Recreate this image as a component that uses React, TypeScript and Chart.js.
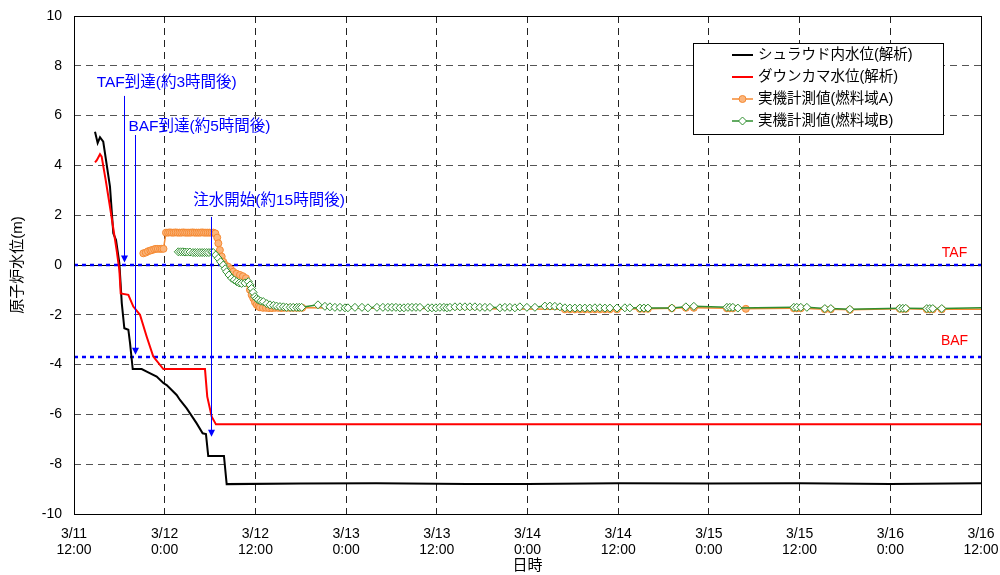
import React, { useEffect, useRef } from 'react';
import { Chart, registerables } from 'chart.js';
Chart.register(...registerables);

// ---- data (hours from 3/11 12:00) ----
const xTickLabels: string[][] = [
  ['3/11', '12:00'], ['3/12', '0:00'], ['3/12', '12:00'], ['3/13', '0:00'], ['3/13', '12:00'],
  ['3/14', '0:00'], ['3/14', '12:00'], ['3/15', '0:00'], ['3/15', '12:00'], ['3/16', '0:00'], ['3/16', '12:00'],
];
const seriesNames = ['シュラウド内水位(解析)', 'ダウンカマ水位(解析)', '実機計測値(燃料域A)', '実機計測値(燃料域B)'];

const shroudT = [2.78, 3.13, 3.44, 3.87, 4.76, 5.2, 5.56, 6.0, 6.32, 6.66, 7.19, 7.41, 7.77, 8.96, 9.62, 10.94, 11.82, 12.26, 13.58, 14.02, 14.91, 16.23, 17.02, 17.46, 17.76, 19.84, 20.2, 30, 40, 52, 60, 72, 84, 96, 108, 120];
const shroudV = [5.35, 4.9, 5.13, 4.95, 3.15, 1.27, 1.0, 0.08, -1.53, -2.54, -2.6, -3.13, -4.18, -4.18, -4.28, -4.48, -4.74, -4.82, -5.22, -5.42, -5.76, -6.36, -6.76, -6.79, -7.67, -7.67, -8.8, -8.78, -8.77, -8.8, -8.8, -8.77, -8.78, -8.77, -8.8, -8.77];

const downT = [2.78, 3.0, 3.44, 3.66, 4.2, 4.76, 5.64, 6.0, 6.18, 7.19, 7.85, 8.73, 9.62, 10.49, 11.82, 17.33, 17.63, 18.22, 18.78, 120];
const downV = [4.12, 4.2, 4.45, 4.35, 3.4, 2.34, 0.6, -0.2, -1.14, -1.2, -1.67, -2.0, -2.88, -3.68, -4.18, -4.18, -5.29, -6.09, -6.4, -6.4];

const measAT = [9.17, 9.5, 9.79, 10.1, 10.32, 10.6, 10.85, 11.1, 11.38, 11.6, 11.84,
  12.17, 12.45, 12.7, 12.95, 13.2, 13.45, 13.7, 13.95, 14.2, 14.45, 14.7, 14.95, 15.2, 15.45, 15.7, 15.95, 16.2, 16.45, 16.7, 16.95, 17.2, 17.45, 17.7, 17.95, 18.2, 18.45,
  18.7, 18.95, 19.1, 19.3, 19.54, 19.75, 20.0, 20.4, 20.75, 21.07, 21.5, 21.96, 22.35, 22.75, 23.06, 23.28, 23.5, 23.72, 23.95, 24.17, 24.4, 24.6,
  25.0, 25.4, 25.8, 26.2, 26.6, 27.0, 27.4, 27.8, 28.2, 28.6, 29.0, 29.4, 29.8, 30.2,
  64.95, 65.61, 66.27, 66.93, 67.59, 68.25, 68.92, 69.58, 70.24, 70.9, 71.83, 74.87, 75.4, 75.93, 79.1, 80.95, 82.01,
  86.38, 86.77, 87.17, 88.89, 95.24, 95.63, 96.16, 99.34, 100.13, 102.65, 109.26, 109.66, 110.05, 112.83, 113.23, 113.62, 114.81, 120];
const measAV = [0.47, 0.5, 0.55, 0.58, 0.6, 0.63, 0.65, 0.65, 0.65, 0.65, 0.65,
  1.3, 1.3, 1.31, 1.3, 1.3, 1.31, 1.3, 1.3, 1.3, 1.31, 1.3, 1.3, 1.3, 1.3, 1.31, 1.3, 1.3, 1.3, 1.3, 1.31, 1.3, 1.3, 1.3, 1.3, 1.3, 1.3,
  1.27, 1.1, 0.87, 0.6, 0.34, 0.13, 0.0, -0.07, -0.17, -0.27, -0.35, -0.4, -0.45, -0.53, -0.74, -1.0, -1.2, -1.34, -1.5, -1.6, -1.66, -1.7,
  -1.72, -1.72, -1.73, -1.73, -1.72, -1.72, -1.73, -1.72, -1.72, -1.72, -1.72, -1.72, -1.72, -1.72,
  -1.78, -1.78, -1.78, -1.78, -1.78, -1.78, -1.78, -1.78, -1.78, -1.78, -1.78, -1.76, -1.76, -1.76, -1.74, -1.72, -1.72,
  -1.74, -1.74, -1.74, -1.76, -1.74, -1.74, -1.74, -1.78, -1.78, -1.8, -1.76, -1.76, -1.76, -1.78, -1.78, -1.78, -1.78, -1.78];

const measBT = [13.8, 14.1, 14.4, 14.7, 15.0, 15.34, 15.74, 16.05, 16.35, 16.65, 16.95, 17.25, 17.55, 17.85, 18.21,
  18.43, 18.75, 19.09, 19.4, 19.75, 20.0, 20.2, 20.5, 20.86, 21.2, 21.52, 21.85, 22.18, 22.6, 23.06, 23.3, 23.5, 23.7, 23.94, 24.15, 24.38, 24.7, 25.04, 25.5, 25.93, 26.4, 26.8, 27.25, 27.7, 28.1, 28.6, 29.0, 29.46, 29.8, 30.12,
  32.28, 33.2, 33.86, 34.52, 35.19, 35.85, 36.24, 37.17, 38.1, 38.89, 40.08, 40.87, 41.53, 42.06, 42.59, 43.12, 43.65, 44.18, 44.71, 45.24, 45.77, 46.83, 47.35, 47.88, 48.41, 48.94, 49.34, 49.74, 50.4, 51.06, 51.72, 52.38, 53.04, 53.7, 54.37, 55.03, 56.35, 57.01, 57.67, 58.33, 58.99, 59.92, 60.98, 62.3, 62.96, 63.62, 64.29, 64.95, 65.61, 66.27, 66.93, 67.59, 68.25, 68.92, 69.58, 70.24, 70.9, 71.83, 72.88, 73.54, 74.87, 75.4, 75.93, 79.1, 80.95, 82.01, 86.38, 86.77, 87.17, 87.83, 95.24, 95.63, 96.16, 96.96, 99.34, 100.13, 102.65, 109.26, 109.66, 110.05, 112.83, 113.23, 113.62, 114.81, 120];
const measBV = [0.53, 0.53, 0.53, 0.52, 0.52, 0.52, 0.5, 0.5, 0.5, 0.5, 0.5, 0.5, 0.5, 0.5, 0.52,
  0.5, 0.4, 0.27, 0.13, 0.0, -0.15, -0.27, -0.4, -0.53, -0.6, -0.67, -0.72, -0.74, -0.72, -0.67, -0.8, -0.94, -1.1, -1.27, -1.35, -1.4, -1.45, -1.47, -1.55, -1.6, -1.62, -1.65, -1.67, -1.68, -1.7, -1.7, -1.7, -1.7, -1.7, -1.7,
  -1.6, -1.66, -1.68, -1.7, -1.7, -1.72, -1.72, -1.7, -1.7, -1.72, -1.7, -1.7, -1.7, -1.7, -1.7, -1.72, -1.72, -1.7, -1.7, -1.7, -1.7, -1.72, -1.72, -1.72, -1.7, -1.7, -1.72, -1.7, -1.68, -1.68, -1.68, -1.68, -1.68, -1.7, -1.7, -1.7, -1.72, -1.7, -1.7, -1.72, -1.68, -1.7, -1.7, -1.65, -1.65, -1.66, -1.68, -1.72, -1.73, -1.73, -1.73, -1.73, -1.73, -1.72, -1.72, -1.73, -1.73, -1.73, -1.72, -1.72, -1.73, -1.73, -1.73, -1.73, -1.68, -1.66, -1.7, -1.7, -1.7, -1.73, -1.7, -1.7, -1.7, -1.7, -1.75, -1.75, -1.78, -1.74, -1.74, -1.74, -1.75, -1.75, -1.75, -1.75, -1.72];

const refNames = ['TAF', 'BAF'];
const refLevels = [0, -3.7];
const refLabelX = [116.5, 116.5];
const refLabelY = [0.48, -3.05];

const annoLabels = ['TAF到達(約3時間後)', 'BAF到達(約5時間後)', '注水開始(約15時間後)'];
const annoTextX = [3.0, 7.2, 15.78];
const annoTextY = [7.32, 5.56, 2.57];
const arrowX = [6.61, 8.07, 18.12];
const arrowTop = [6.79, 5.22, 1.93];
const arrowTip = [0.1, -3.6, -6.9];

const xTitle = '日時';
const yTitle = '原子炉水位(m)';

const FONT = "'Liberation Sans', 'Noto Sans CJK JP', Arial, sans-serif";
const COLORS = { shroud: '#000000', down: '#ff0000', aLine: '#f58a33', aFill: '#fbb57c', b: '#2f8f2f' };

const toXY = (t: number[], v: number[]) => t.map((x, i) => ({ x, y: v[i] }));

const customPlugin = {
  id: 'custom',
  beforeDatasetsDraw(chart: any) {
    const { ctx, chartArea: a, scales } = chart;
    const y = scales.y;
    ctx.save();
    ctx.beginPath();
    ctx.rect(a.left, a.top, a.right - a.left, a.bottom - a.top);
    ctx.clip();
    const y0 = Math.round(y.getPixelForValue(0)) + 0.5;
    ctx.strokeStyle = '#000';
    ctx.lineWidth = 1;
    ctx.setLineDash([]);
    ctx.beginPath();
    ctx.moveTo(a.left, y0);
    ctx.lineTo(a.right, y0);
    ctx.stroke();
    ctx.strokeStyle = '#0000ff';
    ctx.lineWidth = 2.5;
    ctx.setLineDash([4, 4]);
    refLevels.forEach((lv) => {
      const py = Math.round(y.getPixelForValue(lv));
      ctx.beginPath();
      ctx.moveTo(a.left, py);
      ctx.lineTo(a.right, py);
      ctx.stroke();
    });
    ctx.restore();
  },
  afterDatasetsDraw(chart: any) {
    const { ctx, chartArea: a, scales } = chart;
    const x = scales.x, y = scales.y;
    ctx.save();
    // frame
    ctx.strokeStyle = '#000';
    ctx.lineWidth = 1;
    ctx.setLineDash([]);
    ctx.strokeRect(Math.round(a.left) + 0.5, Math.round(a.top) + 0.5, Math.round(a.right - a.left), Math.round(a.bottom - a.top));

    // reference labels
    ctx.fillStyle = '#ff0000';
    ctx.font = `14px ${FONT}`;
    ctx.textAlign = 'center';
    ctx.textBaseline = 'middle';
    refNames.forEach((n, i) => {
      ctx.fillText(n, x.getPixelForValue(refLabelX[i]), y.getPixelForValue(refLabelY[i]));
    });

    // annotation arrows
    ctx.strokeStyle = '#0000ff';
    ctx.fillStyle = '#0000ff';
    ctx.lineWidth = 1;
    arrowX.forEach((ax, i) => {
      const px = Math.round(x.getPixelForValue(ax)) + 0.5;
      const top = y.getPixelForValue(arrowTop[i]);
      const tip = y.getPixelForValue(arrowTip[i]);
      ctx.beginPath();
      ctx.moveTo(px, top);
      ctx.lineTo(px, tip - 6);
      ctx.stroke();
      ctx.beginPath();
      ctx.moveTo(px - 3.5, tip - 7);
      ctx.lineTo(px + 3.5, tip - 7);
      ctx.lineTo(px, tip);
      ctx.closePath();
      ctx.fill();
    });
    ctx.font = `15.5px ${FONT}`;
    ctx.textAlign = 'left';
    ctx.textBaseline = 'middle';
    annoLabels.forEach((t, i) => {
      ctx.fillText(t, x.getPixelForValue(annoTextX[i]), y.getPixelForValue(annoTextY[i]));
    });

    // legend
    const lx = 693, ly = 43, lw = 250, lh = 91;
    ctx.fillStyle = '#fff';
    ctx.fillRect(lx, ly, lw, lh);
    ctx.strokeStyle = '#000';
    ctx.lineWidth = 1;
    ctx.strokeRect(lx + 0.5, ly + 0.5, lw, lh);
    const rowsY = [55, 77, 99, 121];
    const lineCols = [COLORS.shroud, COLORS.down, COLORS.aLine, COLORS.b];
    rowsY.forEach((ry, i) => {
      ctx.strokeStyle = lineCols[i];
      ctx.lineWidth = i < 2 ? 2 : 1.5;
      ctx.beginPath();
      ctx.moveTo(732, ry);
      ctx.lineTo(753, ry);
      ctx.stroke();
      if (i === 2) {
        ctx.fillStyle = COLORS.aFill;
        ctx.beginPath();
        ctx.arc(742.5, ry, 3.5, 0, Math.PI * 2);
        ctx.fill();
        ctx.lineWidth = 1;
        ctx.stroke();
      } else if (i === 3) {
        ctx.fillStyle = '#fff';
        ctx.lineWidth = 1;
        ctx.beginPath();
        ctx.moveTo(742.5, ry - 4);
        ctx.lineTo(746.5, ry);
        ctx.lineTo(742.5, ry + 4);
        ctx.lineTo(738.5, ry);
        ctx.closePath();
        ctx.fill();
        ctx.stroke();
      }
      ctx.fillStyle = '#000';
      ctx.font = `14.5px ${FONT}`;
      ctx.textAlign = 'left';
      ctx.textBaseline = 'middle';
      ctx.fillText(seriesNames[i], 758, ry);
    });

    // axis titles
    ctx.fillStyle = '#000';
    ctx.font = `15px ${FONT}`;
    ctx.textAlign = 'center';
    ctx.textBaseline = 'middle';
    ctx.fillText(xTitle, (a.left + a.right) / 2, 566);
    ctx.translate(18, (a.top + a.bottom) / 2);
    ctx.rotate(-Math.PI / 2);
    ctx.fillText(yTitle, 0, 0);
    ctx.restore();
  },
};

export default function App() {
  const ref = useRef<HTMLCanvasElement | null>(null);
  useEffect(() => {
    document.body.style.margin = '0';
    const canvas = ref.current;
    if (!canvas) return;
    const lastB = measBT.length - 1;
    const lastA = measAT.length - 1;
    const chart = new Chart(canvas, {
      type: 'line',
      data: {
        datasets: [
          {
            label: seriesNames[3], data: toXY(measBT, measBV), borderColor: COLORS.b, borderWidth: 1.5,
            pointStyle: 'rectRot', pointRadius: (c: any) => (c.dataIndex === lastB ? 0 : 4),
            pointBackgroundColor: '#fff', pointBorderColor: COLORS.b, pointBorderWidth: 1, order: 1,
          },
          {
            label: seriesNames[2], data: toXY(measAT, measAV), borderColor: COLORS.aLine, borderWidth: 1.5,
            pointStyle: 'circle', pointRadius: (c: any) => (c.dataIndex === lastA ? 0 : 3.5),
            pointBackgroundColor: COLORS.aFill, pointBorderColor: COLORS.aLine, pointBorderWidth: 1, order: 2,
          },
          { label: seriesNames[1], data: toXY(downT, downV), borderColor: COLORS.down, borderWidth: 2, pointRadius: 0, order: 3 },
          { label: seriesNames[0], data: toXY(shroudT, shroudV), borderColor: COLORS.shroud, borderWidth: 2, pointRadius: 0, order: 4 },
        ],
      },
      options: {
        animation: false,
        responsive: true,
        maintainAspectRatio: false,
        parsing: false as any,
        layout: { padding: { top: 16, right: 19, left: 0, bottom: 0 } },
        plugins: { legend: { display: false }, tooltip: { enabled: false } },
        elements: { line: { tension: 0 } },
        scales: {
          x: {
            type: 'linear', min: 0, max: 120,
            afterFit: (s: any) => { s.height = 61; s.paddingLeft = 0; s.paddingRight = 0; },
            ticks: {
              stepSize: 12, autoSkip: false, maxRotation: 0, minRotation: 0, padding: 12, color: '#000',
              font: { family: FONT, size: 14, lineHeight: 1.15 },
              callback: (v: any) => xTickLabels[Math.round(Number(v) / 12)] as any,
            },
            grid: {
              drawTicks: false, lineWidth: 1,
              color: (c: any) => (c.tick && (c.tick.value === 0 || c.tick.value === 120) ? 'rgba(0,0,0,0)' : '#222'),
            },
            border: { display: false, dash: [7, 5] },
          },
          y: {
            type: 'linear', min: -10, max: 10,
            afterFit: (s: any) => { s.width = 74; s.paddingTop = 0; s.paddingBottom = 0; },
            ticks: { stepSize: 2, padding: 12, color: '#000', font: { family: FONT, size: 14 } },
            grid: {
              drawTicks: false, lineWidth: 1,
              color: (c: any) => (c.tick && (c.tick.value === 0 || Math.abs(c.tick.value) === 10) ? 'rgba(0,0,0,0)' : '#555'),
            },
            border: { display: false, dash: [7, 5] },
          },
        },
      } as any,
      plugins: [customPlugin],
    });
    return () => chart.destroy();
  }, []);
  return (
    <div style={{ width: 1000, height: 575, position: 'relative' }}>
      <canvas ref={ref} />
    </div>
  );
}
